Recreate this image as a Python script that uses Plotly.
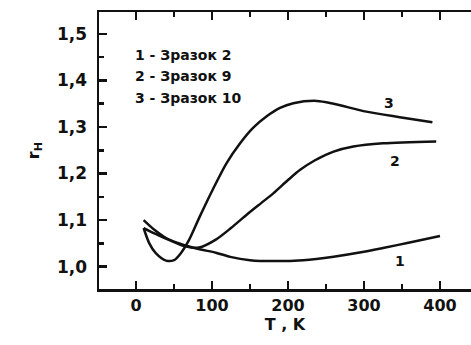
import plotly.graph_objects as go

# Curve data (T in K, r_H)
t1 = [10, 25, 40, 55, 66, 85, 105, 124, 150, 181, 220, 260, 300, 325, 360, 400]
r1 = [1.100, 1.078, 1.061, 1.051, 1.045, 1.037, 1.030, 1.021, 1.014, 1.012, 1.014, 1.0215, 1.032, 1.040, 1.052, 1.066]

t2 = [10, 25, 44, 66, 83, 105, 125, 146, 165, 181, 200, 216, 235, 260, 286, 325, 395]
r2 = [1.083, 1.071, 1.057, 1.043, 1.041, 1.058, 1.083, 1.112, 1.137, 1.158, 1.186, 1.208, 1.228, 1.247, 1.258, 1.265, 1.269]

t3 = [10, 17.5, 26, 39.5, 50, 59, 70, 84, 101.7, 119, 137, 154, 172, 189.5, 207, 238, 260, 303, 347, 390]
r3 = [1.083, 1.050, 1.029, 1.013, 1.014, 1.029, 1.058, 1.108, 1.168, 1.222, 1.265, 1.298, 1.323, 1.341, 1.351, 1.356, 1.350, 1.333, 1.321, 1.310]

legend_lines = ["1 - Зразок 2", "2 - Зразок 9", "3 - Зразок 10"]
legend_y = [1.455, 1.409, 1.362]

curve_labels = ["1", "2", "3"]
label_x = [347, 341, 333]
label_y = [1.012, 1.228, 1.352]

FONT = "DejaVu Sans"
ink = "#111111"

fig = go.Figure()
for t, r in [(t1, r1), (t2, r2), (t3, r3)]:
    fig.add_trace(go.Scatter(x=t, y=r, mode="lines", line=dict(color=ink, width=2.5, shape="spline", smoothing=0.8),
                             showlegend=False, hoverinfo="skip"))

for txt, y in zip(legend_lines, legend_y):
    fig.add_annotation(x=-3.5, y=y, xref="x", yref="y", text=txt, showarrow=False, xanchor="left", yanchor="middle",
                       font=dict(family=FONT, size=14, color=ink, weight="bold"))

for txt, x, y in zip(curve_labels, label_x, label_y):
    fig.add_annotation(x=x, y=y, xref="x", yref="y", text=txt, showarrow=False, xanchor="center", yanchor="middle",
                       font=dict(family=FONT, size=14, color=ink, weight="bold"))

fig.update_layout(
    width=471, height=345,
    margin=dict(l=99, r=0, t=12, b=56, autoexpand=False),
    paper_bgcolor="white", plot_bgcolor="white",
    font=dict(family=FONT, color=ink),
    xaxis=dict(range=[-48.7, 440.8], tickvals=[0, 100, 200, 300, 400], ticks="inside", ticklen=8, tickwidth=2.5,
               tickcolor=ink, showline=True, linewidth=2.5, linecolor=ink, mirror="ticks", showgrid=False,
               zeroline=False, automargin=False, tickfont=dict(family=FONT, size=16, weight="bold", color=ink),
               minor=dict(tickvals=[50, 150, 250, 350], ticks="inside", ticklen=5, tickwidth=2.5, tickcolor=ink),
               title=dict(text="T , K", font=dict(family=FONT, size=16, weight="bold", color=ink), standoff=2)),
    yaxis=dict(range=[0.952, 1.547], tickvals=[1.0, 1.1, 1.2, 1.3, 1.4, 1.5],
               ticktext=["1,0", "1,1", "1,2", "1,3", "1,4", "1,5"], ticks="inside", ticklen=8, tickwidth=2.5,
               tickcolor=ink, showline=True, linewidth=2.5, linecolor=ink, mirror=False, showgrid=False,
               zeroline=False, automargin=False, tickfont=dict(family=FONT, size=17, weight="bold", color=ink),
               ticklabelstandoff=6,
               minor=dict(tickvals=[1.05, 1.15, 1.25, 1.35, 1.45], ticks="inside", ticklen=5, tickwidth=2.5, tickcolor=ink),
               title=dict(text="r<sub>H</sub>", font=dict(family=FONT, size=16, weight="bold", color=ink), standoff=14)),
)

fig.write_html("out.html", config={"displayModeBar": False, "staticPlot": True},
               post_script="document.body.style.margin='0';document.body.style.overflow='hidden';")
